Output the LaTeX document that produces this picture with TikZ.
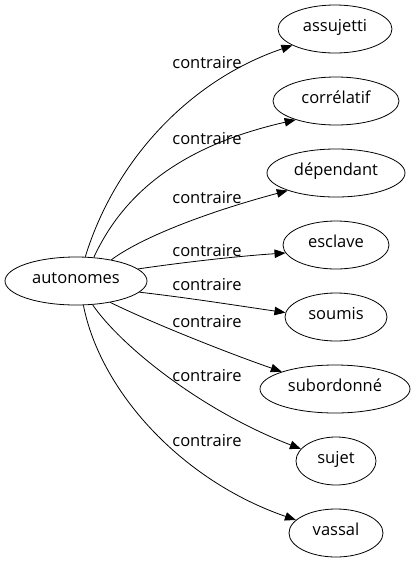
\documentclass[tikz,border=0pt]{standalone}
\usepackage{fontspec}
\setmainfont{Open Sans}
\usetikzlibrary{shapes.geometric,arrows.meta}
\begin{document}
\begin{tikzpicture}[x=1pt,y=-1pt,
  word/.style={ellipse,draw,line width=0.8pt,inner sep=0pt,minimum height=48pt,font=\fontsize{16.5}{18}\selectfont,text height=0.75em,text depth=0.22em},
  lab/.style={font=\fontsize{16.5}{18}\selectfont,inner sep=0pt,anchor=base},
  edge/.style={line width=0.8pt,-{Triangle[length=11pt,width=8.5pt]}}]
\useasboundingbox (0,0) rectangle (417,563);
\node[word,minimum width=142pt] (aut) at (76,281) {autonomes};
\node[word,minimum width=114pt] (ass) at (335,29) {assujetti};
\node[word,minimum width=126pt] (cor) at (336,101) {corrélatif};
\node[word,minimum width=138pt] (dep) at (336,173) {dépendant};
\node[word,minimum width=106pt] (esc) at (336,245) {esclave};
\node[word,minimum width=102pt] (sou) at (336,317) {soumis};
\node[word,minimum width=150pt] (sub) at (335,389) {subordonné};
\node[word,minimum width=80pt] (suj) at (336,461) {sujet};
\node[word,minimum width=94pt] (vas) at (336,533) {vassal};
\node[lab] (l1) at (207,68) {contraire};
\node[lab] (l2) at (207,144) {contraire};
\node[lab] (l3) at (207,203) {contraire};
\node[lab] (l4) at (207,256) {contraire};
\node[lab] (l5) at (207,290) {contraire};
\node[lab] (l6) at (207,327) {contraire};
\node[lab] (l7) at (207,381) {contraire};
\node[lab] (l8) at (207,446) {contraire};
\draw[edge] (aut.69) .. controls (115,160) and (190,80) .. (ass.201);
\draw[edge] (aut.53) .. controls (125,190) and (185,145) .. (cor.205);
\draw[edge] (aut.31) .. controls (145,235) and (215,210) .. (dep.200);
\draw[edge] (aut.11) .. controls (185,262) and (240,256) .. (esc.189);
\draw[edge] (aut.-10) .. controls (190,298) and (240,306) .. (sou.175);
\draw[edge] (aut.-32) .. controls (150,322) and (225,352) .. (sub.162);
\draw[edge] (aut.-55) .. controls (120,345) and (200,410) .. (suj.161);
\draw[edge] (aut.-73) .. controls (100,390) and (180,480) .. (vas.162);
\end{tikzpicture}
\end{document}
